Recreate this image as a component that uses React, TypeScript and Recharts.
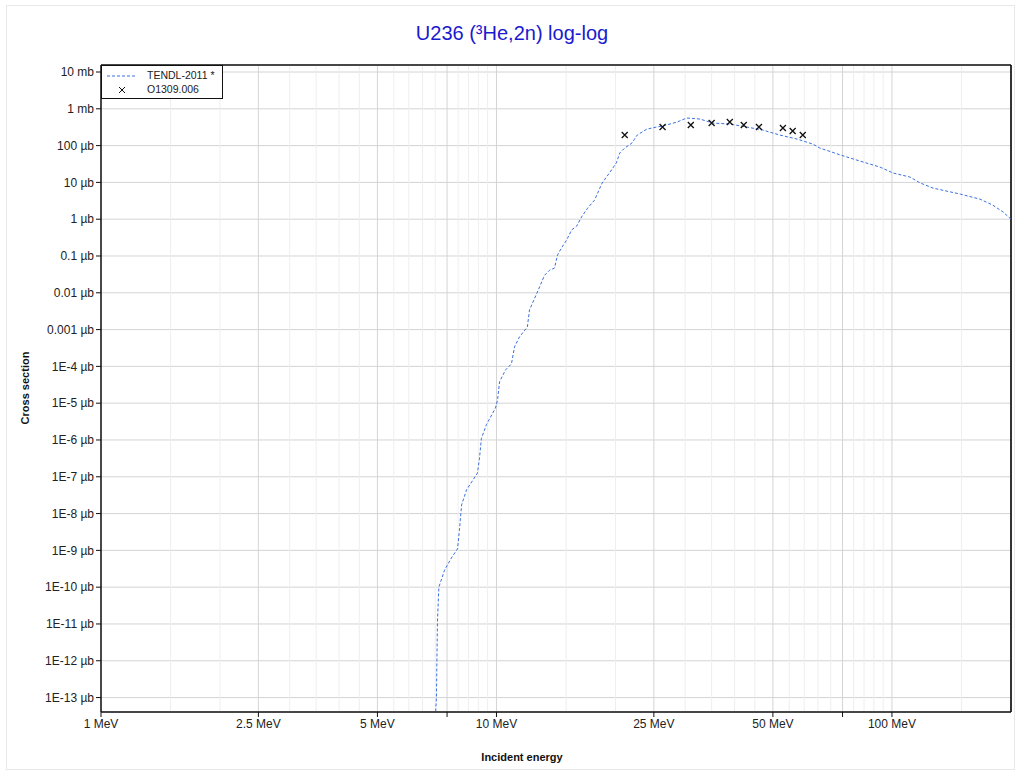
import { ComposedChart, Line, Scatter, XAxis, YAxis, CartesianGrid, ReferenceLine } from "recharts";

// TENDL-2011 evaluation, energy in MeV, cross section in microbarn
const tendlEnergy = [
  7.02, 7.05, 7.07, 7.09, 7.15, 7.39, 7.69, 7.97, 8.06, 8.16, 8.4, 8.95, 9.05, 9.16, 9.43, 9.94,
  10.06, 10.18, 10.54, 10.91, 11.11, 11.43, 11.97, 12.12, 12.69, 13.23, 13.62, 14.02, 14.27, 14.6,
  15.04, 15.49, 15.95, 16.41, 17.0, 17.7, 18.5, 19.3, 20.1, 20.5, 21.1, 22.0, 22.7, 24.0, 25.4,
  26.3, 28.6, 30.3, 32.7, 35.2, 38.9, 42.9, 47.1, 52.0, 57.5, 63.1, 65.7, 73.9, 83.0, 93.3, 100.6,
  111, 118, 127, 149, 167, 180, 191, 200,
];
const tendlXs = [
  4.2e-14, 1.0e-13, 1.05e-12, 1.07e-11, 1.0e-10, 2.9e-10, 6.2e-10, 1.1e-9, 3.5e-9, 1.7e-8, 4.4e-8,
  1.26e-7, 2.9e-7, 1.1e-6, 2.6e-6, 7.4e-6, 1.2e-5, 3.8e-5, 8e-5, 1.17e-4, 3.4e-4, 6.3e-4, 1.18e-3,
  3.4e-3, 0.0105, 0.03, 0.041, 0.047, 0.107, 0.165, 0.27, 0.51, 0.65, 1.15, 2.0, 3.3, 9.6, 18, 34,
  63, 86, 117, 194, 280, 320, 340, 436, 562, 527, 410, 386, 320, 265, 194, 151, 110, 86, 56, 38, 26,
  18, 14, 9.6, 7.0, 4.8, 3.5, 2.4, 1.57, 1.0,
];

// EXFOR O1309.006
const expEnergy = [21.1, 26.3, 31.0, 35.0, 38.9, 42.2, 46.1, 53.0, 56.1, 59.5];
const expXs = [194, 320, 363, 411, 438, 363, 320, 301, 250, 194];

const xMajorTicks = [1, 2.5, 5, 7.5, 10, 25, 50, 75, 100];
const xTickLabels = ["1 MeV", "2.5 MeV", "5 MeV", "", "10 MeV", "25 MeV", "50 MeV", "", "100 MeV"];
const xMinorTicks = [
  1.5, 2, 3, 3.5, 4, 4.5, 5.5, 6, 6.5, 7, 8, 8.5, 9, 9.5, 15, 20, 30, 35, 40, 45, 55, 60, 65, 70,
  80, 85, 90, 95, 150,
];

const yTicks = [
  1e-13, 1e-12, 1e-11, 1e-10, 1e-9, 1e-8, 1e-7, 1e-6, 1e-5, 1e-4, 1e-3, 1e-2, 1e-1, 1, 10, 100,
  1000, 10000,
];
const yTickLabels = [
  "1E-13 µb", "1E-12 µb", "1E-11 µb", "1E-10 µb", "1E-9 µb", "1E-8 µb", "1E-7 µb", "1E-6 µb",
  "1E-5 µb", "1E-4 µb", "0.001 µb", "0.01 µb", "0.1 µb", "1 µb", "10 µb", "100 µb", "1 mb", "10 mb",
];

const X_DOMAIN = [1, 200];
const Y_DOMAIN = [4.05e-14, 1.55e4];

const tendlData = tendlEnergy.map((e, i) => ({ e, v: tendlXs[i] }));
const expData = expEnergy.map((e, i) => ({ e, v: expXs[i] }));

const FONT = "'Liberation Sans', Arial, sans-serif";
const LINE_BLUE = "#3b6fe0";

function labelFor(ticks: number[], labels: string[], v: number) {
  let best = 0;
  for (let i = 1; i < ticks.length; i++) {
    if (Math.abs(Math.log10(ticks[i]) - Math.log10(v)) < Math.abs(Math.log10(ticks[best]) - Math.log10(v))) best = i;
  }
  return labels[best];
}

const Cross = (props: any) => {
  const { cx, cy } = props;
  if (cx == null || cy == null) return null;
  const s = 3;
  return (
    <path
      d={`M${cx - s},${cy - s}L${cx + s},${cy + s}M${cx - s},${cy + s}L${cx + s},${cy - s}`}
      stroke="#111"
      strokeWidth={1.3}
    />
  );
};

export default function App() {
  return (
    <div style={{ position: "absolute", left: 0, top: 0, width: 1020, height: 774, background: "#fff", fontFamily: FONT }}>
      <div style={{ position: "absolute", left: 6, top: 5, width: 1007, height: 763, border: "1px solid #e8e8e8" }} />
      <div
        style={{ position: "absolute", left: 0, top: 22, width: 1024, textAlign: "center", fontSize: 20, color: "#1a1ad0" }}
      >
        U236 (³He,2n) log-log
      </div>
      <div
        style={{ position: "absolute", left: 0, top: 751, width: 1044, textAlign: "center", fontSize: 11, fontWeight: "bold", color: "#111" }}
      >
        Incident energy
      </div>
      <div
        style={{
          position: "absolute", left: 25, top: 388, transform: "translate(-50%, -50%) rotate(-90deg)",
          fontSize: 11, fontWeight: "bold", color: "#111", whiteSpace: "nowrap",
        }}
      >
        Cross section
      </div>
      <div style={{ position: "absolute", left: 0, top: 0 }}>
        <ComposedChart width={1020} height={774} margin={{ top: 65, right: 9, bottom: 0, left: 0 }}>
          <CartesianGrid stroke="#d4d4d4" strokeWidth={1} />
          {xMinorTicks.map((t) => (
            <ReferenceLine key={t} x={t} stroke="#eeeeee" strokeWidth={1} ifOverflow="hidden" />
          ))}
          <ReferenceLine x={X_DOMAIN[1]} stroke="#333" strokeWidth={2} />
          <ReferenceLine y={Y_DOMAIN[1]} stroke="#111" strokeWidth={1.5} />
          <XAxis
            dataKey="e"
            type="number"
            scale="log"
            domain={X_DOMAIN}
            allowDataOverflow
            ticks={xMajorTicks}
            tickFormatter={(v: number) => labelFor(xMajorTicks, xTickLabels, v)}
            height={62}
            tickSize={5}
            tick={{ fill: "#222", fontSize: 12, fontFamily: FONT }}
            axisLine={{ stroke: "#111", strokeWidth: 1.5 }}
            tickLine={{ stroke: "#111" }}
          />
          <XAxis
            xAxisId="minor"
            type="number"
            scale="log"
            domain={X_DOMAIN}
            allowDataOverflow
            ticks={xMinorTicks}
            tickFormatter={() => ""}
            height={0}
            mirror
            tickSize={4}
            axisLine={false}
            tickLine={{ stroke: "#111" }}
          />
          <YAxis
            dataKey="v"
            type="number"
            scale="log"
            domain={Y_DOMAIN}
            allowDataOverflow
            ticks={yTicks}
            interval={0}
            tickFormatter={(v: number) => labelFor(yTicks, yTickLabels, v)}
            width={101}
            tickSize={5}
            tick={{ fill: "#222", fontSize: 12, fontFamily: FONT }}
            axisLine={{ stroke: "#111", strokeWidth: 1.5 }}
            tickLine={{ stroke: "#111" }}
          />
          <YAxis
            yAxisId="right"
            orientation="right"
            type="number"
            scale="log"
            domain={Y_DOMAIN}
            allowDataOverflow
            ticks={yTicks}
            interval={0}
            tickFormatter={() => ""}
            width={0}
            mirror
            tickSize={4}
            axisLine={false}
            tickLine={{ stroke: "#555", strokeWidth: 2 }}
          />
          <Line
            data={tendlData}
            dataKey="v"
            type="linear"
            stroke={LINE_BLUE}
            strokeWidth={1}
            strokeDasharray="3 2"
            dot={false}
            isAnimationActive={false}
          />
          <Scatter data={expData} dataKey="v" shape={Cross} isAnimationActive={false} />
        </ComposedChart>
      </div>
      <div
        style={{
          position: "absolute", left: 101, top: 65, width: 122, height: 34, border: "1px solid #111",
          background: "#fff", fontSize: 10.5, color: "#222", boxSizing: "border-box",
        }}
      >
        <svg width={44} height={34} style={{ position: "absolute", left: 0, top: 0 }}>
          <line x1={5} y1={10} x2={34} y2={10} stroke={LINE_BLUE} strokeDasharray="3 2" />
          <path d="M17,21L23,27M17,27L23,21" stroke="#111" strokeWidth={1} />
        </svg>
        <div style={{ position: "absolute", left: 45, top: 3 }}>TENDL-2011 *</div>
        <div style={{ position: "absolute", left: 45, top: 17 }}>O1309.006</div>
      </div>
    </div>
  );
}
